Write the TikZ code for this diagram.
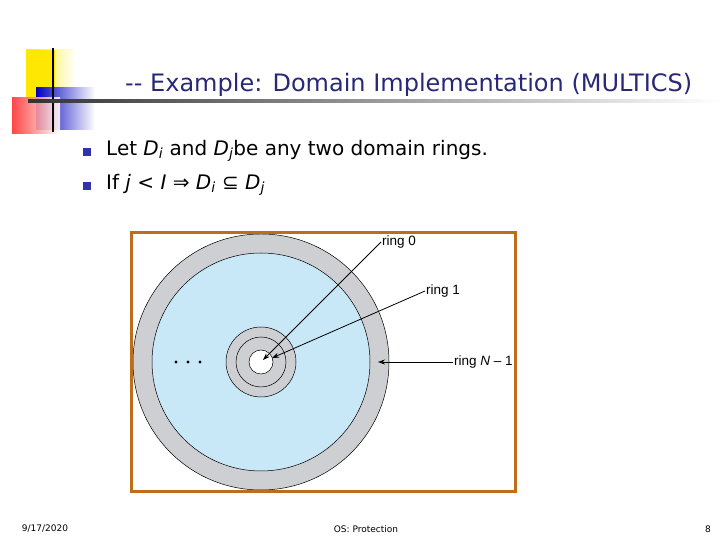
\documentclass[tikz,border=0pt]{standalone}
\usepackage{fontspec}
\setmainfont{DejaVu Sans}
\newfontfamily\lblfont{Liberation Sans}
\usetikzlibrary{arrows.meta}
\definecolor{navy}{RGB}{40,40,120}
\definecolor{frameor}{RGB}{190,110,25}
\definecolor{ringgray}{RGB}{205,207,210}
\definecolor{ringblue}{RGB}{200,232,248}
\definecolor{bullblue}{RGB}{50,50,170}
\tikzset{lbl/.style={font=\fontsize{13.5}{14}\selectfont\lblfont, inner sep=1pt},
 arr/.style={-{Stealth[length=7pt,width=5pt]}, line width=0.8pt},
 ring/.style={draw=black, line width=0.5pt}}
\begin{document}
\begin{tikzpicture}[x=1pt,y=1pt]
\useasboundingbox (0,0) rectangle (720,540);
% logo
\shade[left color=yellow!85!orange, right color=white] (26,440) rectangle (75,490);
\fill[yellow!90!orange] (26,440) rectangle (55,490);
\shade[left color=blue!75!black, right color=white] (36,410) rectangle (95,452);
\shade[left color=red!80, right color=white, opacity=0.9] (12,406) rectangle (60,442);
\draw[line width=2pt] (53,408) -- (53,492);
\shade[left color=black!80, right color=white] (28,437) rectangle (720,440);
\node[anchor=west, text=navy, font=\fontsize{24}{26}\selectfont, inner sep=0] (title) at (125,455) {{-}{-} Example: Domain Implementation (MULTICS)};
% bullets
\fill[bullblue] (83,384) rectangle (91,392) coordinate (b1);
\fill[bullblue] (83,350) rectangle (91,358) coordinate (b2);
\node[anchor=west, font=\fontsize{20}{22}\selectfont, inner sep=0] (t1) at (106,389) {Let \textit{D\textsubscript{i}} and \textit{D\textsubscript{j}}be any two domain rings.};
\node[anchor=west, font=\fontsize{20}{22}\selectfont, inner sep=0] (t2) at (106,355) {If \textit{j} < \textit{I} ⇒ \textit{D\textsubscript{i}} ⊆ \textit{D\textsubscript{j}}};
% figure
\begin{scope}
\clip (131,48) rectangle (515,307);
\coordinate (c) at (261,178);
\fill[ringgray, ring] (c) circle (128);
\fill[ringblue, ring] (c) circle (109);
\fill[ringgray, ring] (c) circle (35);
\draw[ring] (c) circle (25);
\fill[white, ring] (c) circle (12);
\foreach \x in {176,188,200} \fill (\x,178) circle (1.6);
\node[lbl, anchor=west] (r0) at (381,298) {ring 0};
\node[lbl, anchor=west] (r1) at (425,249) {ring 1};
\node[lbl, anchor=west] (rn) at (453,178) {ring \textit{N} – 1};
\coordinate (e0) at (263,180);
\coordinate (e1) at (272,182);
\coordinate (en) at (378,178);
\draw[arr] (r0.west) -- (e0);
\draw[arr] (r1.west) -- (e1);
\draw[arr] (rn.west) -- (en);
\end{scope}
\draw[frameor, line width=3pt] (131,48) rectangle (515,307);
% footer
\node[font=\fontsize{9}{10}\selectfont] (date) at (45,11) {9/17/2020};
\node[font=\fontsize{9}{10}\selectfont] (foot) at (366,11) {OS: Protection};
\node[font=\fontsize{9}{10}\selectfont] (pg) at (708,11) {8};
\end{tikzpicture}
\end{document}
